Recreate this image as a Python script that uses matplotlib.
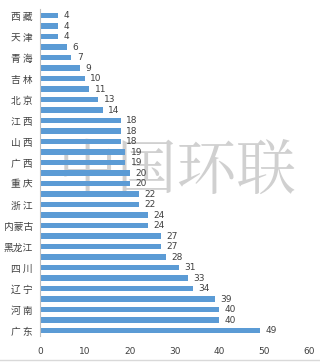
import matplotlib.pyplot as plt

plt.rcParams['font.family'] = ['Noto Sans CJK SC', 'DejaVu Sans']

# top to bottom, as in the picture (unlabelled rows left blank)
provinces = ['西 藏', '', '天 津', '', '青 海', '', '吉 林', '', '北 京', '',
             '江 西', '', '山 西', '', '广 西', '', '重 庆', '', '浙 江', '',
             '内蒙古', '', '黑龙江', '', '四 川', '', '辽 宁', '', '河 南', '',
             '广 东']
values = [4, 4, 4, 6, 7, 9, 10, 11, 13, 14, 18, 18, 18, 19, 19, 20, 20,
          22, 22, 24, 24, 27, 27, 28, 31, 33, 34, 39, 40, 40, 49]
xticks = [0, 10, 20, 30, 40, 50, 60]

fig = plt.figure(figsize=(3.2, 3.62), dpi=100)
ax = fig.add_axes([0.125, 0.072, 0.841, 0.902])
ax.set_zorder(2)
ax.patch.set_alpha(0)

pos = range(len(values))
ax.barh(pos, values, height=0.52, color='#5B9BD5')
for i, v in enumerate(values):
    ax.text(v + 1.2, i, str(v), va='center', ha='left', fontsize=6.5,
            color='#404040', family='DejaVu Sans')

ax.set_yticks(list(pos))
ax.set_yticklabels(provinces, fontsize=7, color='#404040')
ax.set_ylim(len(values) - 0.5, -0.6)
ax.set_xlim(0, 60)
ax.set_xticks(xticks)
ax.set_xticklabels([str(t) for t in xticks], fontsize=6.5, color='#404040',
                   family='DejaVu Sans')
ax.tick_params(length=0, pad=5)
ax.tick_params(axis='x', pad=8)
for s in ['top', 'right', 'bottom']:
    ax.spines[s].set_visible(False)
ax.spines['left'].set_color('#BFBFBF')
ax.spines['left'].set_linewidth(0.8)

# watermark, behind the bars
fig.text(0.555, 0.522, '中国环联', fontsize=43, color='#D0D0D0',
         ha='center', va='center', family='Noto Serif CJK SC', zorder=0)

fig.add_artist(plt.Line2D([0, 1], [0.006, 0.006], color='#D9D9D9', lw=1,
                          transform=fig.transFigure))

fig.savefig('out.png', dpi=100)
